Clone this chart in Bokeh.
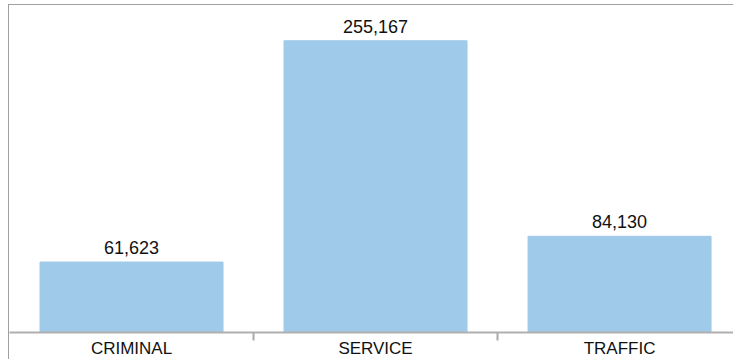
from bokeh.plotting import figure
from bokeh.models import Range1d, FixedTicker, ColumnDataSource, LabelSet
from bokeh.core.properties import value
from bokeh.embed import file_html
from bokeh.resources import INLINE

categories = ["CRIMINAL", "SERVICE", "TRAFFIC"]
counts = [61623, 255167, 84130]

xs = [i + 0.5 for i in range(len(categories))]
labels = [f"{c:,}" for c in counts]
src = ColumnDataSource(dict(x=xs, top=counts, label=labels))

p = figure(width=725, height=355, output_backend="svg", toolbar_location=None,
           x_range=Range1d(0, 2.971), y_range=Range1d(0, 286000),
           y_axis_location=None,
           min_border_left=0, min_border_right=0, min_border_top=0, min_border_bottom=26)
p.outline_line_color = None
p.grid.visible = False
p.vbar(x="x", top="top", width=0.75, source=src, color="#9fcae9")

ax = p.xaxis[0]
ax.ticker = FixedTicker(ticks=xs, minor_ticks=list(range(1, len(categories))))
ax.major_label_overrides = {x: c for x, c in zip(xs, categories)}
ax.major_tick_in = 0
ax.major_tick_out = 0
ax.minor_tick_in = 0
ax.minor_tick_out = 8
ax.minor_tick_line_color = "#aaaaaa"
ax.minor_tick_line_width = 2
ax.axis_line_color = "#b0b0b0"
ax.axis_line_width = 2
ax.major_label_text_font = "Liberation Sans"
ax.major_label_text_font_size = "17px"
ax.major_label_text_color = "#111111"
ax.major_label_standoff = -2

p.add_layout(LabelSet(x="x", y="top", text="label", source=src, y_offset=8,
                      text_align="center", text_baseline="alphabetic",
                      text_font=value("Liberation Sans"), text_font_size=value("18px"),
                      text_color=value("#111111")))

p.styles = {"margin-left": "8px", "margin-top": "4px",
            "border-top": "1px solid #a0a0a0", "border-left": "1px solid #a0a0a0"}

open("out.html", "w").write(file_html(p, INLINE))
